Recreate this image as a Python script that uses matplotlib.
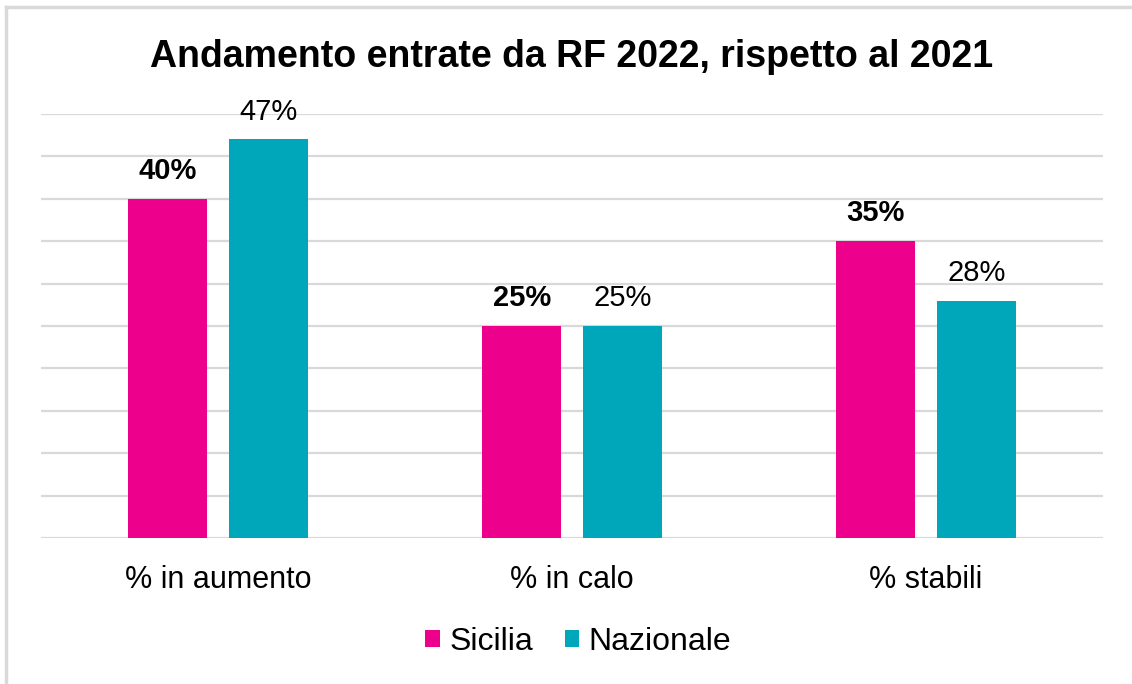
import numpy as np
import matplotlib
matplotlib.use("Agg")
import matplotlib.pyplot as plt
from matplotlib.lines import Line2D

plt.rcParams['font.family'] = ['Liberation Sans', 'DejaVu Sans']

# Dati
categorie = ['% in aumento', '% in calo', '% stabili']
sicilia = [40, 25, 35]
nazionale = [47, 25, 28]
serie = ['Sicilia', 'Nazionale']

col_sicilia = '#EC008C'
col_nazionale = '#00A6BA'
col_griglia = '#D9D9D9'

fig = plt.figure(figsize=(11.32, 6.84), dpi=100)
ax = fig.add_axes([41 / 1132, 0.2135, 1062 / 1132, 0.6199])

x = np.arange(len(categorie))
w = 0.223
off = 0.142
b1 = ax.bar(x - off, sicilia, w, color=col_sicilia, label=serie[0], zorder=3)
b2 = ax.bar(x + off, nazionale, w, color=col_nazionale, label=serie[1], zorder=3)

# etichette valori
for rect, v in zip(b1, sicilia):
    ax.annotate(f'{v}%', (rect.get_x() + rect.get_width() / 2, v),
                xytext=(0, 10), textcoords='offset points',
                ha='center', va='bottom', fontsize=21, fontweight='bold')
for rect, v in zip(b2, nazionale):
    ax.annotate(f'{v}%', (rect.get_x() + rect.get_width() / 2, v),
                xytext=(0, 10), textcoords='offset points',
                ha='center', va='bottom', fontsize=21)

ax.set_xlim(-0.5, len(categorie) - 0.5)
ax.set_ylim(0, 50)
ax.set_yticks(np.arange(0, 51, 5))
ax.yaxis.grid(True, color=col_griglia, linewidth=1.6, zorder=0)
ax.set_axisbelow(True)
ax.tick_params(axis='y', left=False, labelleft=False)
ax.tick_params(axis='x', bottom=False, pad=16, labelsize=22)
ax.set_xticks(x)
ax.set_xticklabels(categorie)
for s in ax.spines.values():
    s.set_visible(False)

ax.set_title('Andamento entrate da RF 2022, rispetto al 2021',
             fontsize=27, fontweight='bold', pad=34)

ax.legend(loc='center', bbox_to_anchor=(0.506, -0.245), ncol=2, frameon=False,
          fontsize=23, handlelength=0.45, handleheight=0.45, handletextpad=0.3,
          columnspacing=1.0)

# cornice
fig.add_artist(Line2D([6 / 1132, 1], [1 - 7 / 684, 1 - 7 / 684],
                      color=col_griglia, linewidth=2.5, transform=fig.transFigure))
fig.add_artist(Line2D([6 / 1132, 6 / 1132], [0, 1 - 7 / 684],
                      color=col_griglia, linewidth=2.5, transform=fig.transFigure))

fig.savefig('out.png', dpi=100, facecolor='white')
